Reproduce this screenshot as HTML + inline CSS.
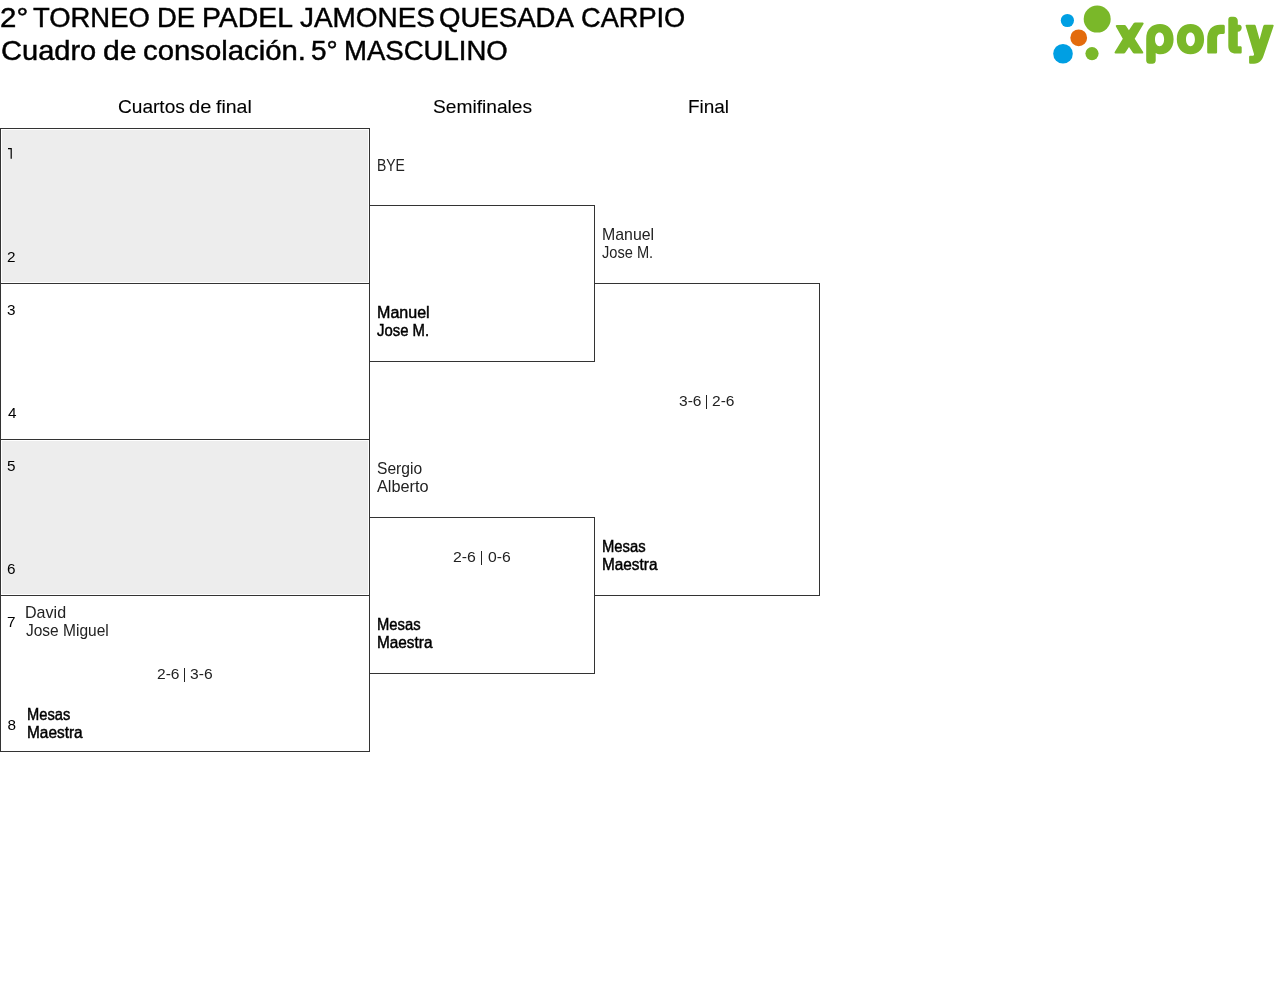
<!DOCTYPE html>
<html><head><meta charset="utf-8"><title>Cuadro</title><style>html,body{margin:0;padding:0;background:#fff;width:1280px;height:982px;overflow:hidden;position:relative} #pg{position:absolute;left:0;top:0;width:1280px;height:982px;will-change:transform}</style></head><body><div id="pg">
<div style="position:absolute;left:2px;top:130px;width:366px;height:152px;background:#ededed"></div>
<div style="position:absolute;left:2px;top:441px;width:366px;height:153px;background:#ededed"></div>
<div style="position:absolute;left:0px;top:128px;width:370px;height:624px;box-sizing:border-box;border:1px solid #333;"></div>
<div style="position:absolute;left:0px;top:283px;width:370px;height:1px;background:#333"></div>
<div style="position:absolute;left:0px;top:439px;width:370px;height:1px;background:#333"></div>
<div style="position:absolute;left:0px;top:595px;width:370px;height:1px;background:#333"></div>
<div style="position:absolute;left:369px;top:205px;width:226px;height:157px;box-sizing:border-box;border:1px solid #333;"></div>
<div style="position:absolute;left:369px;top:517px;width:226px;height:157px;box-sizing:border-box;border:1px solid #333;"></div>
<div style="position:absolute;left:594px;top:283px;width:226px;height:313px;box-sizing:border-box;border:1px solid #333;border-left:none"></div>
<div style="position:absolute;left:0.43px;top:0.8px;font-family:'Liberation Sans', sans-serif;font-size:27.5px;font-weight:400;line-height:33px;white-space:pre;color:#000;-webkit-text-stroke:0.45px #000;transform:scaleX(1.0708);transform-origin:0 0;">2°</div>
<div style="position:absolute;left:33.4px;top:0.8px;font-family:'Liberation Sans', sans-serif;font-size:27.5px;font-weight:400;line-height:33px;white-space:pre;color:#000;-webkit-text-stroke:0.45px #000;transform:scaleX(0.9966);transform-origin:0 0;">TORNEO</div>
<div style="position:absolute;left:157.0px;top:0.8px;font-family:'Liberation Sans', sans-serif;font-size:27.5px;font-weight:400;line-height:33px;white-space:pre;color:#000;-webkit-text-stroke:0.45px #000;">DE</div>
<div style="position:absolute;left:202.34px;top:0.8px;font-family:'Liberation Sans', sans-serif;font-size:27.5px;font-weight:400;line-height:33px;white-space:pre;color:#000;-webkit-text-stroke:0.45px #000;transform:scaleX(1.0314);transform-origin:0 0;">PADEL</div>
<div style="position:absolute;left:299.7px;top:0.8px;font-family:'Liberation Sans', sans-serif;font-size:27.5px;font-weight:400;line-height:33px;white-space:pre;color:#000;-webkit-text-stroke:0.45px #000;transform:scaleX(1.0155);transform-origin:0 0;">JAMONES</div>
<div style="position:absolute;left:439.3px;top:0.8px;font-family:'Liberation Sans', sans-serif;font-size:27.5px;font-weight:400;line-height:33px;white-space:pre;color:#000;-webkit-text-stroke:0.45px #000;transform:scaleX(1.003);transform-origin:0 0;">QUESADA</div>
<div style="position:absolute;left:581.21px;top:0.8px;font-family:'Liberation Sans', sans-serif;font-size:27.5px;font-weight:400;line-height:33px;white-space:pre;color:#000;-webkit-text-stroke:0.45px #000;transform:scaleX(0.9885);transform-origin:0 0;">CARPIO</div>
<div style="position:absolute;left:1.19px;top:33.9px;font-family:'Liberation Sans', sans-serif;font-size:27.5px;font-weight:400;line-height:33px;white-space:pre;color:#000;-webkit-text-stroke:0.45px #000;transform:scaleX(1.0562);transform-origin:0 0;">Cuadro</div>
<div style="position:absolute;left:103.3px;top:33.9px;font-family:'Liberation Sans', sans-serif;font-size:27.5px;font-weight:400;line-height:33px;white-space:pre;color:#000;-webkit-text-stroke:0.45px #000;transform:scaleX(1.0983);transform-origin:0 0;">de</div>
<div style="position:absolute;left:143.03px;top:33.9px;font-family:'Liberation Sans', sans-serif;font-size:27.5px;font-weight:400;line-height:33px;white-space:pre;color:#000;-webkit-text-stroke:0.45px #000;transform:scaleX(1.066);transform-origin:0 0;">consolación.</div>
<div style="position:absolute;left:310.89px;top:33.9px;font-family:'Liberation Sans', sans-serif;font-size:27.5px;font-weight:400;line-height:33px;white-space:pre;color:#000;-webkit-text-stroke:0.45px #000;transform:scaleX(1.0146);transform-origin:0 0;">5°</div>
<div style="position:absolute;left:344.25px;top:33.9px;font-family:'Liberation Sans', sans-serif;font-size:27.5px;font-weight:400;line-height:33px;white-space:pre;color:#000;-webkit-text-stroke:0.45px #000;transform:scaleX(1.0016);transform-origin:0 0;">MASCULINO</div>
<div style="position:absolute;left:118.1px;top:95.9px;font-family:'Liberation Sans', sans-serif;font-size:19px;font-weight:400;line-height:22px;white-space:pre;color:#000;-webkit-text-stroke:0.1px #000;transform:scaleX(1.0046);transform-origin:0 0;">Cuartos</div>
<div style="position:absolute;left:188.64px;top:95.9px;font-family:'Liberation Sans', sans-serif;font-size:19px;font-weight:400;line-height:22px;white-space:pre;color:#000;-webkit-text-stroke:0.1px #000;transform:scaleX(1.055);transform-origin:0 0;">de</div>
<div style="position:absolute;left:216.1px;top:95.9px;font-family:'Liberation Sans', sans-serif;font-size:19px;font-weight:400;line-height:22px;white-space:pre;color:#000;-webkit-text-stroke:0.1px #000;transform:scaleX(1.0265);transform-origin:0 0;">final</div>
<div style="position:absolute;left:432.89px;top:95.7px;font-family:'Liberation Sans', sans-serif;font-size:19px;font-weight:400;line-height:22px;white-space:pre;color:#000;-webkit-text-stroke:0.1px #000;transform:scaleX(1.0093);transform-origin:0 0;">Semifinales</div>
<div style="position:absolute;left:687.6px;top:95.8px;font-family:'Liberation Sans', sans-serif;font-size:19px;font-weight:400;line-height:22px;white-space:pre;color:#000;-webkit-text-stroke:0.1px #000;transform:scaleX(0.9974);transform-origin:0 0;">Final</div>
<svg style="position:absolute;left:0;top:140px" width="20" height="25" viewBox="0 140 20 25"><path d="M8 148.1 H11.8 V158.8 H10.6 V149.3 H8 Z" fill="#000"/></svg>
<div style="position:absolute;left:7.0px;top:247.9px;font-family:'Liberation Sans', sans-serif;font-size:15.3px;font-weight:400;line-height:18px;white-space:pre;color:#000;">2</div>
<div style="position:absolute;left:7.0px;top:300.8px;font-family:'Liberation Sans', sans-serif;font-size:15.3px;font-weight:400;line-height:18px;white-space:pre;color:#000;">3</div>
<div style="position:absolute;left:8.0px;top:403.8px;font-family:'Liberation Sans', sans-serif;font-size:15.3px;font-weight:400;line-height:18px;white-space:pre;color:#000;">4</div>
<div style="position:absolute;left:7.0px;top:456.8px;font-family:'Liberation Sans', sans-serif;font-size:15.3px;font-weight:400;line-height:18px;white-space:pre;color:#000;">5</div>
<div style="position:absolute;left:7.0px;top:560.0px;font-family:'Liberation Sans', sans-serif;font-size:15.3px;font-weight:400;line-height:18px;white-space:pre;color:#000;">6</div>
<div style="position:absolute;left:7.0px;top:612.7px;font-family:'Liberation Sans', sans-serif;font-size:15.3px;font-weight:400;line-height:18px;white-space:pre;color:#000;">7</div>
<div style="position:absolute;left:7.5px;top:715.8px;font-family:'Liberation Sans', sans-serif;font-size:15.3px;font-weight:400;line-height:18px;white-space:pre;color:#000;">8</div>
<div style="position:absolute;left:377.31px;top:156.9px;font-family:'Liberation Sans', sans-serif;font-size:15.7px;font-weight:400;line-height:18px;white-space:pre;color:#222;transform:scaleX(0.89);transform-origin:0 0;">BYE</div>
<div style="position:absolute;left:601.79px;top:226.0px;font-family:'Liberation Sans', sans-serif;font-size:15.7px;font-weight:400;line-height:18px;white-space:pre;color:#222;transform:scaleX(1.012);transform-origin:0 0;">Manuel</div>
<div style="position:absolute;left:601.9px;top:243.8px;font-family:'Liberation Sans', sans-serif;font-size:15.7px;font-weight:400;line-height:18px;white-space:pre;color:#222;transform:scaleX(0.9315);transform-origin:0 0;">Jose M.</div>
<div style="position:absolute;left:376.8px;top:303.8px;font-family:'Liberation Sans', sans-serif;font-size:16px;font-weight:400;line-height:18px;white-space:pre;color:#000;-webkit-text-stroke:0.45px #000;transform:scaleX(1.0039);transform-origin:0 0;">Manuel</div>
<div style="position:absolute;left:376.9px;top:321.9px;font-family:'Liberation Sans', sans-serif;font-size:16px;font-weight:400;line-height:18px;white-space:pre;color:#000;-webkit-text-stroke:0.45px #000;transform:scaleX(0.9309);transform-origin:0 0;">Jose M.</div>
<div style="position:absolute;left:678.69px;top:391.9px;font-family:'Liberation Sans', sans-serif;font-size:15.4px;font-weight:400;line-height:18px;white-space:pre;color:#222;transform:scaleX(1.0095);transform-origin:0 0;">3-6</div>
<div style="position:absolute;left:711.79px;top:391.9px;font-family:'Liberation Sans', sans-serif;font-size:15.4px;font-weight:400;line-height:18px;white-space:pre;color:#222;transform:scaleX(1.0095);transform-origin:0 0;">2-6</div>
<div style="position:absolute;left:376.51px;top:459.75px;font-family:'Liberation Sans', sans-serif;font-size:15.7px;font-weight:400;line-height:18px;white-space:pre;color:#222;transform:scaleX(0.9943);transform-origin:0 0;">Sergio</div>
<div style="position:absolute;left:377.2px;top:477.9px;font-family:'Liberation Sans', sans-serif;font-size:15.7px;font-weight:400;line-height:18px;white-space:pre;color:#222;transform:scaleX(1.0388);transform-origin:0 0;">Alberto</div>
<div style="position:absolute;left:452.97px;top:547.9px;font-family:'Liberation Sans', sans-serif;font-size:15.4px;font-weight:400;line-height:18px;white-space:pre;color:#222;transform:scaleX(1.0286);transform-origin:0 0;">2-6</div>
<div style="position:absolute;left:487.5px;top:547.9px;font-family:'Liberation Sans', sans-serif;font-size:15.4px;font-weight:400;line-height:18px;white-space:pre;color:#222;transform:scaleX(1.0227);transform-origin:0 0;">0-6</div>
<div style="position:absolute;left:602.07px;top:537.75px;font-family:'Liberation Sans', sans-serif;font-size:16px;font-weight:400;line-height:18px;white-space:pre;color:#000;-webkit-text-stroke:0.45px #000;transform:scaleX(0.9261);transform-origin:0 0;">Mesas</div>
<div style="position:absolute;left:602.14px;top:555.9px;font-family:'Liberation Sans', sans-serif;font-size:16px;font-weight:400;line-height:18px;white-space:pre;color:#000;-webkit-text-stroke:0.45px #000;transform:scaleX(0.9596);transform-origin:0 0;">Maestra</div>
<div style="position:absolute;left:377.18px;top:615.9px;font-family:'Liberation Sans', sans-serif;font-size:16px;font-weight:400;line-height:18px;white-space:pre;color:#000;-webkit-text-stroke:0.45px #000;transform:scaleX(0.9239);transform-origin:0 0;">Mesas</div>
<div style="position:absolute;left:377.14px;top:633.8px;font-family:'Liberation Sans', sans-serif;font-size:16px;font-weight:400;line-height:18px;white-space:pre;color:#000;-webkit-text-stroke:0.45px #000;transform:scaleX(0.9596);transform-origin:0 0;">Maestra</div>
<div style="position:absolute;left:25.18px;top:603.8px;font-family:'Liberation Sans', sans-serif;font-size:15.7px;font-weight:400;line-height:18px;white-space:pre;color:#222;transform:scaleX(1.0237);transform-origin:0 0;">David</div>
<div style="position:absolute;left:26.2px;top:621.6px;font-family:'Liberation Sans', sans-serif;font-size:15.7px;font-weight:400;line-height:18px;white-space:pre;color:#222;transform:scaleX(0.988);transform-origin:0 0;">Jose Miguel</div>
<div style="position:absolute;left:156.79px;top:664.75px;font-family:'Liberation Sans', sans-serif;font-size:15.4px;font-weight:400;line-height:18px;white-space:pre;color:#222;transform:scaleX(1.0095);transform-origin:0 0;">2-6</div>
<div style="position:absolute;left:189.59px;top:664.75px;font-family:'Liberation Sans', sans-serif;font-size:15.4px;font-weight:400;line-height:18px;white-space:pre;color:#222;transform:scaleX(1.0143);transform-origin:0 0;">3-6</div>
<div style="position:absolute;left:27.18px;top:706.4px;font-family:'Liberation Sans', sans-serif;font-size:16px;font-weight:400;line-height:18px;white-space:pre;color:#000;-webkit-text-stroke:0.45px #000;transform:scaleX(0.9174);transform-origin:0 0;">Mesas</div>
<div style="position:absolute;left:27.14px;top:724.4px;font-family:'Liberation Sans', sans-serif;font-size:16px;font-weight:400;line-height:18px;white-space:pre;color:#000;-webkit-text-stroke:0.45px #000;transform:scaleX(0.9632);transform-origin:0 0;">Maestra</div>
<div style="position:absolute;left:706.2px;top:395px;width:1.3px;height:13.6px;background:#222"></div>
<div style="position:absolute;left:480.8px;top:551px;width:1.3px;height:13.6px;background:#222"></div>
<div style="position:absolute;left:184.0px;top:668px;width:1.3px;height:13.6px;background:#222"></div>
<svg style="position:absolute;left:1040px;top:0px" width="240" height="80" viewBox="1040 0 240 80">
<g fill="#009fe3"><circle cx="1067.4" cy="20.5" r="6.6"/><circle cx="1063.0" cy="53.8" r="9.8"/></g>
<circle cx="1078.7" cy="37.8" r="8.4" fill="#e36b0c"/>
<g fill="#7ab829">
<circle cx="1097.2" cy="19.1" r="13.5"/><circle cx="1092.0" cy="53.6" r="6.6"/>
<path d="M1116.8 25.0 L1124.6 25.0 Q1125.4 25.0 1125.9 25.7 L1128.9 30.3 L1133.6 23.2 Q1134.2 22.4 1135.2 22.4 L1142.6 22.4 Q1144.3 22.5 1143.5 24.0 L1134.7 38.8 L1143.2 52.0 Q1143.8 53.5 1142.2 53.5 L1134.2 53.5 Q1133.4 53.5 1132.9 52.8 L1129.0 47.1 L1125.2 52.8 Q1124.7 53.5 1123.9 53.5 L1115.5 53.5 Q1113.9 53.4 1114.7 52.0 L1122.8 38.8 L1115.9 26.6 Q1115.2 25.0 1116.8 25.0 Z"/>
<path fill-rule="evenodd" d="M1146.2 39 C1146.2 29 1152 24.1 1160 24.1 C1168 24.1 1173.6 30 1173.6 39.2 C1173.6 48.5 1168 54.3 1160.5 54.3 C1158.5 54.3 1156.8 53.8 1155.7 53 L1155.7 60.5 C1155.7 62.5 1154.3 63.8 1152.3 63.8 L1149.5 63.8 C1147.5 63.8 1146.2 62.5 1146.2 60.5 Z M1155 39.3 C1155 43.6 1157 46.2 1159.5 46.2 C1162.2 46.2 1164.1 43.6 1164.1 39.3 C1164.1 35 1162.2 32.5 1159.5 32.5 C1157 32.5 1155 35 1155 39.3 Z"/>
<path fill-rule="evenodd" d="M1176.8 39.2 C1176.8 30 1182.5 24.1 1190.5 24.1 C1198.5 24.1 1204.1 30 1204.1 39.2 C1204.1 48.5 1198.5 54.3 1190.5 54.3 C1182.5 54.3 1176.8 48.5 1176.8 39.2 Z M1186 39.3 C1186 43.6 1188 46.2 1190.5 46.2 C1193 46.2 1194.9 43.6 1194.9 39.3 C1194.9 35 1193 32.5 1190.5 32.5 C1188 32.5 1186 35 1186 39.3 Z"/>
<path d="M1207.2 40 C1207.2 30 1212 24.8 1220 24.8 L1223.5 24.8 C1224.4 24.8 1224.8 25.5 1224.8 26.5 L1224.8 32.3 C1224.8 33.3 1224.3 33.9 1223.3 33.9 L1221 33.9 C1218.5 33.9 1217.1 35.5 1217.1 38 L1217.1 52.3 C1217.1 53.1 1216.5 53.6 1215.6 53.6 L1208.7 53.6 C1207.8 53.6 1207.2 53.1 1207.2 52.3 Z"/>
<path d="M1228.3 19.5 C1228.3 17.8 1229.3 16.7 1231 16.7 L1233.5 16.7 C1236.3 16.7 1237.8 18.5 1237.8 21 L1237.8 24.8 L1239.2 24.8 C1240.7 24.8 1241.7 26 1241.7 27.5 C1241.7 29.8 1240.3 31.8 1237.8 31.8 L1237.8 46.2 L1240.4 46.2 C1241.2 46.2 1241.7 46.8 1241.7 47.5 L1241.7 52.3 C1241.7 53.1 1241.2 53.6 1240.4 53.6 L1236 53.6 C1231.2 53.6 1228.3 51 1228.3 46 Z"/>
<path d="M1245.6 25.8 C1245.4 25.2 1245.8 24.8 1246.4 24.8 L1254.2 24.8 C1255 24.8 1255.6 25.3 1255.8 26 L1259.6 39.5 L1263.2 26.2 C1263.5 25.4 1264.2 24.8 1265 24.8 L1272.8 24.8 C1273.5 24.8 1273.9 25.3 1273.6 26 L1263.8 55 C1262.3 59.8 1259.4 63.8 1254 63.8 L1250.5 63.8 C1249.6 63.8 1249.1 63.3 1249.1 62.5 L1249.1 57 C1249.1 56.2 1249.6 55.7 1250.4 55.7 L1252.3 55.7 C1253.5 55.7 1254.3 55 1254 54 Z"/>
</g></svg>
</div></body></html>
